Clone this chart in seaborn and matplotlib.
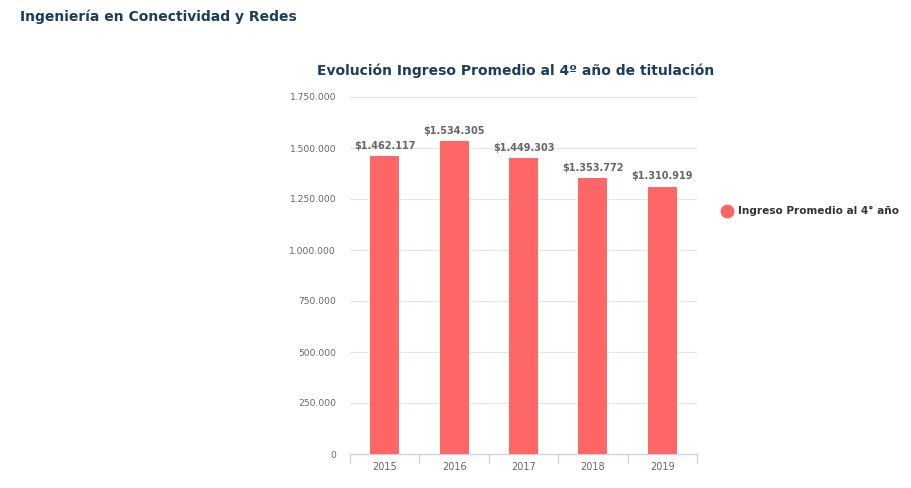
import numpy as np
import pandas as pd
import matplotlib
matplotlib.use("Agg")
import matplotlib.pyplot as plt
import seaborn as sns
from matplotlib.lines import Line2D

years = ["2015", "2016", "2017", "2018", "2019"]
ingreso = [1462117, 1534305, 1449303, 1353772, 1310919]
y_ticks = [0, 250000, 500000, 750000, 1000000, 1250000, 1500000, 1750000]

def fmt_miles(v):
    return f"{v:,.0f}".replace(",", ".")

sns.set_style("white")
plt.rcParams["font.family"] = ["DejaVu Sans"]

df = pd.DataFrame({"Año": years, "Ingreso": ingreso})

fig = plt.figure(figsize=(9.11, 4.88), dpi=100)
ax = fig.add_axes([350 / 911, 1 - 454 / 488, 347 / 911, 357 / 488])

sns.barplot(data=df, x="Año", y="Ingreso", color="#FF6666", width=0.42,
            saturation=1, ax=ax, zorder=3, linewidth=0)

ax.set_ylim(0, 1750000)
ax.set_xlim(-0.5, len(years) - 0.5)
ax.set_yticks(y_ticks)
ax.set_yticklabels([fmt_miles(v) for v in y_ticks], fontsize=6.6, color="#666666")
ax.tick_params(axis="y", length=0, pad=10)
ax.tick_params(axis="x", length=0, pad=6, labelsize=7, labelcolor="#666666")
ax.grid(axis="y", color="#e6e6e6", linewidth=0.8, zorder=0)
ax.set_xlabel("")
ax.set_ylabel("")
for s in ["top", "right", "left"]:
    ax.spines[s].set_visible(False)
ax.spines["bottom"].set_color("#ccd6eb")
ax.spines["bottom"].set_linewidth(1)

# tick marks between categories, highcharts style
for b in np.arange(-0.5, len(years), 1.0):
    ax.plot([b, b], [0, -0.025], transform=ax.get_xaxis_transform(),
            color="#ccd6eb", lw=1, clip_on=False)

for i, v in enumerate(ingreso):
    ax.text(i, v + 25000, "$" + fmt_miles(v), ha="center", va="bottom",
            fontsize=7, fontweight="bold", color="#666666")

fig.text(20 / 911, 1 - 17 / 488, "Ingeniería en Conectividad y Redes",
         fontsize=10, fontweight="bold", color="#1c3d5e", va="center", ha="left")
fig.text(516 / 911, 1 - 71 / 488, "Evolución Ingreso Promedio al 4º año de titulación",
         fontsize=10, fontweight="bold", color="#1c3d5e", va="center", ha="center")

# legend
fig.lines.append(Line2D([727 / 911], [1 - 211 / 488], marker="o", color="#FF6666",
                        markersize=9, linestyle="none", transform=fig.transFigure))
fig.text(738 / 911, 1 - 211 / 488, "Ingreso Promedio al 4° año",
         fontsize=7.6, fontweight="bold", color="#333333", va="center", ha="left")

fig.savefig("out.png", dpi=100)
